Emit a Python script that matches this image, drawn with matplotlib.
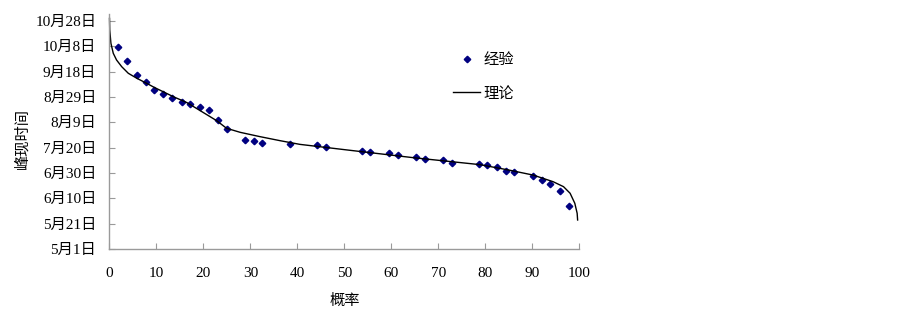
import matplotlib
matplotlib.use("Agg")
import matplotlib.pyplot as plt

plt.rcParams['font.family'] = ['Liberation Serif', 'Noto Sans CJK SC']

# Empirical points: probability (%) vs days since 5月1日
emp_x = [1.9, 3.7, 5.8, 7.7, 9.5, 11.4, 13.4, 15.4, 17.2, 19.2, 21.2, 23.0, 24.9,
         28.8, 30.7, 32.5, 38.3, 44.1, 46.0, 53.7, 55.5, 59.5, 61.3, 65.2, 67.1,
         70.9, 72.8, 78.6, 80.4, 82.4, 84.3, 86.1, 90.1, 92.0, 93.8, 95.9, 97.7]
emp_y = [159.7, 148.2, 137.6, 131.6, 125.3, 122.1, 119.5, 116.3, 114.7, 111.9, 109.7,
         101.8, 95.0, 85.8, 85.0, 83.4, 82.9, 82.1, 80.5, 77.6, 76.6, 76.0, 74.0,
         72.9, 70.8, 70.0, 67.9, 67.1, 66.3, 64.5, 61.6, 60.8, 57.6, 54.7, 51.6,
         45.6, 33.9]

# Theoretical curve
th_x = [0, 0.05, 0.3, 0.8, 1.5, 2.6, 4.0, 5.8, 7.9, 9.5, 10.5, 13.6, 16.5, 19.3,
        22.8, 24.9, 27.8, 32.0, 36.3, 40.5, 50.5, 64.6, 78.8, 85.0, 90.2, 94.4,
        96.6, 98.0, 99.0, 99.5, 99.6]
th_y = [182, 172.9, 162.4, 154.5, 149.2, 143.9, 138.7, 134.8, 130.8, 127.6, 125.8,
        120.2, 115.5, 109.2, 101.3, 95.3, 92.1, 88.7, 85.5, 82.6, 78.2, 72.1, 66.6,
        62.3, 58.3, 53.1, 49.2, 44.0, 36.1, 28.2, 22.9]

x_ticks = [0, 10, 20, 30, 40, 50, 60, 70, 80, 90, 100]
y_ticks = [0, 20, 40, 60, 80, 100, 120, 140, 160, 180]
y_labels = ['5月1日', '5月21日', '6月10日', '6月30日', '7月20日', '8月9日',
            '8月29日', '9月18日', '10月8日', '10月28日']

fig = plt.figure(figsize=(9.03, 3.09), dpi=100)
ax = fig.add_axes([109.5/903, 60/309, 470/903, 235/309])

ax.plot(emp_x, emp_y, linestyle='none', marker='D', markersize=3.3,
        color='#000080', label='经验', clip_on=False)
ax.plot(th_x, th_y, color='black', lw=1.0, label='理论', clip_on=False)

ax.set_xlim(0, 100)
ax.set_ylim(0, 185.5)
ax.set_xticks(x_ticks)
ax.set_yticks(y_ticks)
ax.set_yticklabels(y_labels)

for s in ['top', 'right']:
    ax.spines[s].set_visible(False)
for s in ['left', 'bottom']:
    ax.spines[s].set_color('#9a9a9a')
    ax.spines[s].set_linewidth(1.0)
ax.tick_params(axis='both', direction='in', length=4, color='#9a9a9a',
               labelsize=11, labelcolor='black')
ax.tick_params(axis='y', pad=9.5)
ax.tick_params(axis='x', pad=13)

ax.set_xlabel('概率', fontsize=11, labelpad=10)
ax.set_ylabel('峰现时间', fontsize=11)
ax.yaxis.set_label_coords(-0.171, 0.47)

leg = ax.legend(loc='upper left', bbox_to_anchor=(453/903, 1 - 53/309),
                bbox_transform=fig.transFigure, frameon=False, fontsize=11,
                handlelength=1.8, handletextpad=0.2, labelspacing=1.3,
                borderpad=0, borderaxespad=0)

fig.savefig('out.png', dpi=100)
